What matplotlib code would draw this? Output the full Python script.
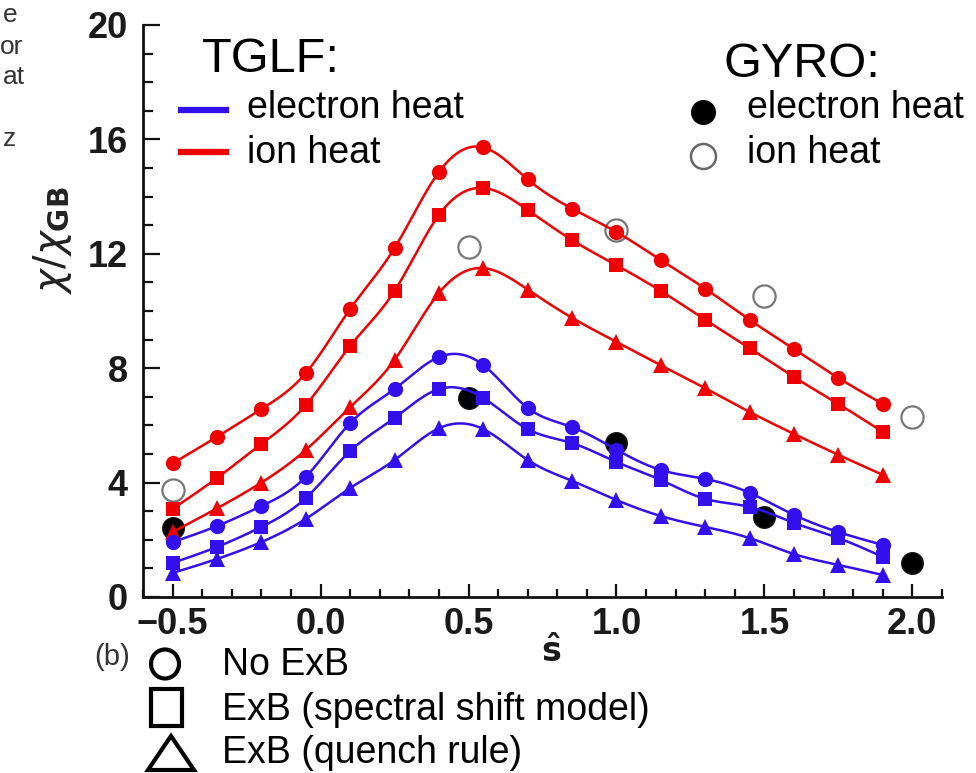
import numpy as np
import matplotlib
matplotlib.use("Agg")
import matplotlib.pyplot as plt
from matplotlib.patches import Ellipse, Rectangle, Polygon
from matplotlib.ticker import MultipleLocator

# ---------------- data ----------------
s_hat = [-0.5, -0.35, -0.2, -0.05, 0.1, 0.25, 0.4, 0.55, 0.7, 0.85,
         1.0, 1.15, 1.3, 1.45, 1.6, 1.75, 1.9]

ion_no_exb = [4.67, 5.6, 6.57, 7.83, 10.07, 12.2, 14.86, 15.72, 14.6, 13.58,
              12.76, 11.78, 10.78, 9.69, 8.67, 7.66, 6.75]
ion_spectral = [3.08, 4.16, 5.35, 6.71, 8.78, 10.7, 13.36, 14.3, 13.53, 12.48,
                11.6, 10.7, 9.69, 8.7, 7.69, 6.75, 5.77]
ion_quench = [2.27, 3.1, 4.0, 5.14, 6.64, 8.29, 10.63, 11.5, 10.75, 9.76,
              8.92, 8.1, 7.3, 6.47, 5.7, 4.97, 4.27]

elec_no_exb = [1.92, 2.48, 3.18, 4.2, 6.08, 7.27, 8.39, 8.11, 6.61, 5.94,
               5.15, 4.44, 4.13, 3.64, 2.87, 2.27, 1.82]
elec_spectral = [1.19, 1.75, 2.45, 3.46, 5.1, 6.26, 7.27, 6.96, 5.87, 5.38,
                 4.72, 4.09, 3.43, 3.15, 2.59, 2.06, 1.4]
elec_quench = [0.84, 1.33, 1.92, 2.73, 3.81, 4.79, 5.9, 5.87, 4.79, 4.06,
               3.39, 2.83, 2.45, 2.06, 1.5, 1.12, 0.77]

gyro_s = [-0.5, 0.5, 1.0, 1.5, 2.0]
gyro_elec = [2.41, 6.96, 5.38, 2.8, 1.19]
gyro_ion = [3.74, 12.24, 12.83, 10.52, 6.29]

x_ticks = [-0.5, 0.0, 0.5, 1.0, 1.5, 2.0]
x_tick_labels = ["\u22120.5", "0.0", "0.5", "1.0", "1.5", "2.0"]
y_ticks = [0, 4, 8, 12, 16, 20]
y_tick_labels = ["0", "4", "8", "12", "16", "20"]

RED = "#f00000"
BLUE = "#3210ee"

W, H = 976, 773


def natural_spline(x, y, n=400):
    x = np.asarray(x, float)
    y = np.asarray(y, float)
    m = len(x)
    h = np.diff(x)
    A = np.zeros((m, m))
    b = np.zeros(m)
    A[0, 0] = 1
    A[-1, -1] = 1
    for i in range(1, m - 1):
        A[i, i - 1] = h[i - 1]
        A[i, i] = 2 * (h[i - 1] + h[i])
        A[i, i + 1] = h[i]
        b[i] = 3 * ((y[i + 1] - y[i]) / h[i] - (y[i] - y[i - 1]) / h[i - 1])
    c = np.linalg.solve(A, b)
    xs = np.linspace(x[0], x[-1], n)
    idx = np.clip(np.searchsorted(x, xs) - 1, 0, m - 2)
    dx = xs - x[idx]
    bb = (y[idx + 1] - y[idx]) / h[idx] - h[idx] * (2 * c[idx] + c[idx + 1]) / 3
    dd = (c[idx + 1] - c[idx]) / (3 * h[idx])
    ys = y[idx] + bb * dx + c[idx] * dx ** 2 + dd * dx ** 3
    return xs, ys


def fx(px):
    return px / W


def fy(py):
    return 1 - py / H


fig = plt.figure(figsize=(9.76, 7.73), dpi=100)
ax = fig.add_axes([fx(143), fy(597), (942 - 143) / W, (597 - 25) / H])

# GYRO points (beneath)
ax.plot(gyro_s, gyro_elec, 'o', color='black', markersize=15.5, zorder=2,
        markeredgecolor='#111111')
ax.plot(gyro_s, gyro_ion, 'o', markerfacecolor='white', markeredgecolor='#777777',
        markersize=16, markeredgewidth=1.6, zorder=2)

series = [
    (ion_no_exb, RED, 'o', 11),
    (ion_spectral, RED, 's', 10.5),
    (ion_quench, RED, '^', 11.5),
    (elec_no_exb, BLUE, 'o', 11),
    (elec_spectral, BLUE, 's', 10.5),
    (elec_quench, BLUE, '^', 11.5),
]
for vals, col, mk, ms in series:
    xs, ys = natural_spline(s_hat, vals)
    ax.plot(xs, ys, '-', color=col, linewidth=1.8, zorder=3)
    ax.plot(s_hat, vals, mk, color=col, markersize=ms, markeredgewidth=0, zorder=4)

ax.set_xlim(-0.6, 2.1)
ax.set_ylim(0, 20)
ax.spines['top'].set_visible(False)
ax.spines['right'].set_visible(False)
for sp in ('left', 'bottom'):
    ax.spines[sp].set_linewidth(2.0)
    ax.spines[sp].set_color('#111111')

ax.set_xticks(x_ticks)
ax.set_xticklabels(x_tick_labels)
ax.set_yticks(y_ticks)
ax.set_yticklabels(y_tick_labels)
ax.xaxis.set_minor_locator(MultipleLocator(0.1))
ax.yaxis.set_minor_locator(MultipleLocator(1))
ax.tick_params(axis='x', which='major', direction='in', length=9.5, width=1.6,
               pad=7, colors='#111111')
ax.tick_params(axis='x', which='minor', direction='in', length=6, width=1.6, colors='#111111')
ax.tick_params(axis='y', which='major', direction='in', length=12.5, width=1.6,
               pad=11, colors='#111111')
ax.tick_params(axis='y', which='minor', direction='in', length=7.5, width=1.6, colors='#111111')
for lab in ax.get_xticklabels() + ax.get_yticklabels():
    lab.set_fontfamily(['Liberation Sans Narrow', 'Liberation Sans', 'DejaVu Sans'])
    lab.set_fontweight('bold')
    lab.set_fontsize(26)
    lab.set_color('#1a1a1a')

# axis labels
fig.text(fx(551), fy(652), r'$\mathbf{\hat{s}}$', fontsize=24, ha='center', va='center',
         color='#1a1a1a')
fig.text(fx(52), fy(240), r'$\chi/\chi_{\mathbf{GB}}$', fontsize=29, rotation=90,
         ha='center', va='center', color='#222222')

txt = dict(family=['Liberation Sans', 'DejaVu Sans'], color='black')
# TGLF legend
fig.text(fx(202), fy(72), 'TGLF:', fontsize=35, va='baseline', **txt)
fig.text(fx(247), fy(118), 'electron heat', fontsize=27, va='baseline', **txt)
fig.text(fx(247), fy(163), 'ion heat', fontsize=27, va='baseline', **txt)
fig.add_artist(plt.Line2D([fx(181), fx(226)], [fy(110), fy(110)], color=BLUE,
                          linewidth=4.5, transform=fig.transFigure))
fig.add_artist(plt.Line2D([fx(181), fx(226)], [fy(152), fy(152)], color=RED,
                          linewidth=4.5, transform=fig.transFigure))

# GYRO legend
fig.text(fx(724), fy(77), 'GYRO:', fontsize=35, va='baseline', **txt)
fig.text(fx(747), fy(118), 'electron heat', fontsize=27, va='baseline', **txt)
fig.text(fx(747), fy(163), 'ion heat', fontsize=27, va='baseline', **txt)
fig.add_artist(plt.Line2D([fx(703)], [fy(112)], marker='o', markersize=17,
                          color='black', linestyle='none', transform=fig.transFigure))
fig.add_artist(plt.Line2D([fx(703)], [fy(156)], marker='o', markersize=18,
                          markerfacecolor='white', markeredgecolor='#666666',
                          markeredgewidth=1.8, linestyle='none', transform=fig.transFigure))

# bottom legend (marker shapes)
fig.text(fx(222), fy(675), 'No ExB', fontsize=27, va='baseline', **txt)
fig.text(fx(222), fy(720), 'ExB (spectral shift model)', fontsize=27, va='baseline', **txt)
fig.text(fx(222), fy(763), 'ExB (quench rule)', fontsize=27, va='baseline', **txt)
fig.add_artist(Ellipse((fx(165), fy(664)), 28 / W, 29 / H, transform=fig.transFigure,
                       fill=False, edgecolor='black', linewidth=3))
fig.add_artist(Rectangle((fx(151), fy(726)), 31 / W, 37 / H, transform=fig.transFigure,
                         fill=False, edgecolor='black', linewidth=3))
fig.add_artist(Polygon([(fx(171), fy(736)), (fx(148), fy(770)), (fx(194), fy(770))],
                       closed=True, transform=fig.transFigure, fill=False,
                       edgecolor='black', linewidth=3, joinstyle='miter'))

# panel label and cropped page fragments
fig.text(fx(94), fy(657), '(b)', fontsize=21, va='center', color='#333333',
         family=['Liberation Sans Narrow', 'Liberation Sans', 'DejaVu Sans'])
frag = dict(fontsize=19, ha='right', va='baseline', color='#333333',
            family=['Liberation Sans', 'DejaVu Sans'])
fig.text(fx(18), fy(22), 'e', **frag)
fig.text(fx(23), fy(54), 'or', **frag)
fig.text(fx(25), fy(84), 'at', **frag)
fig.text(fx(16), fy(146), 'z', **frag)

fig.savefig('out.png', dpi=100)
